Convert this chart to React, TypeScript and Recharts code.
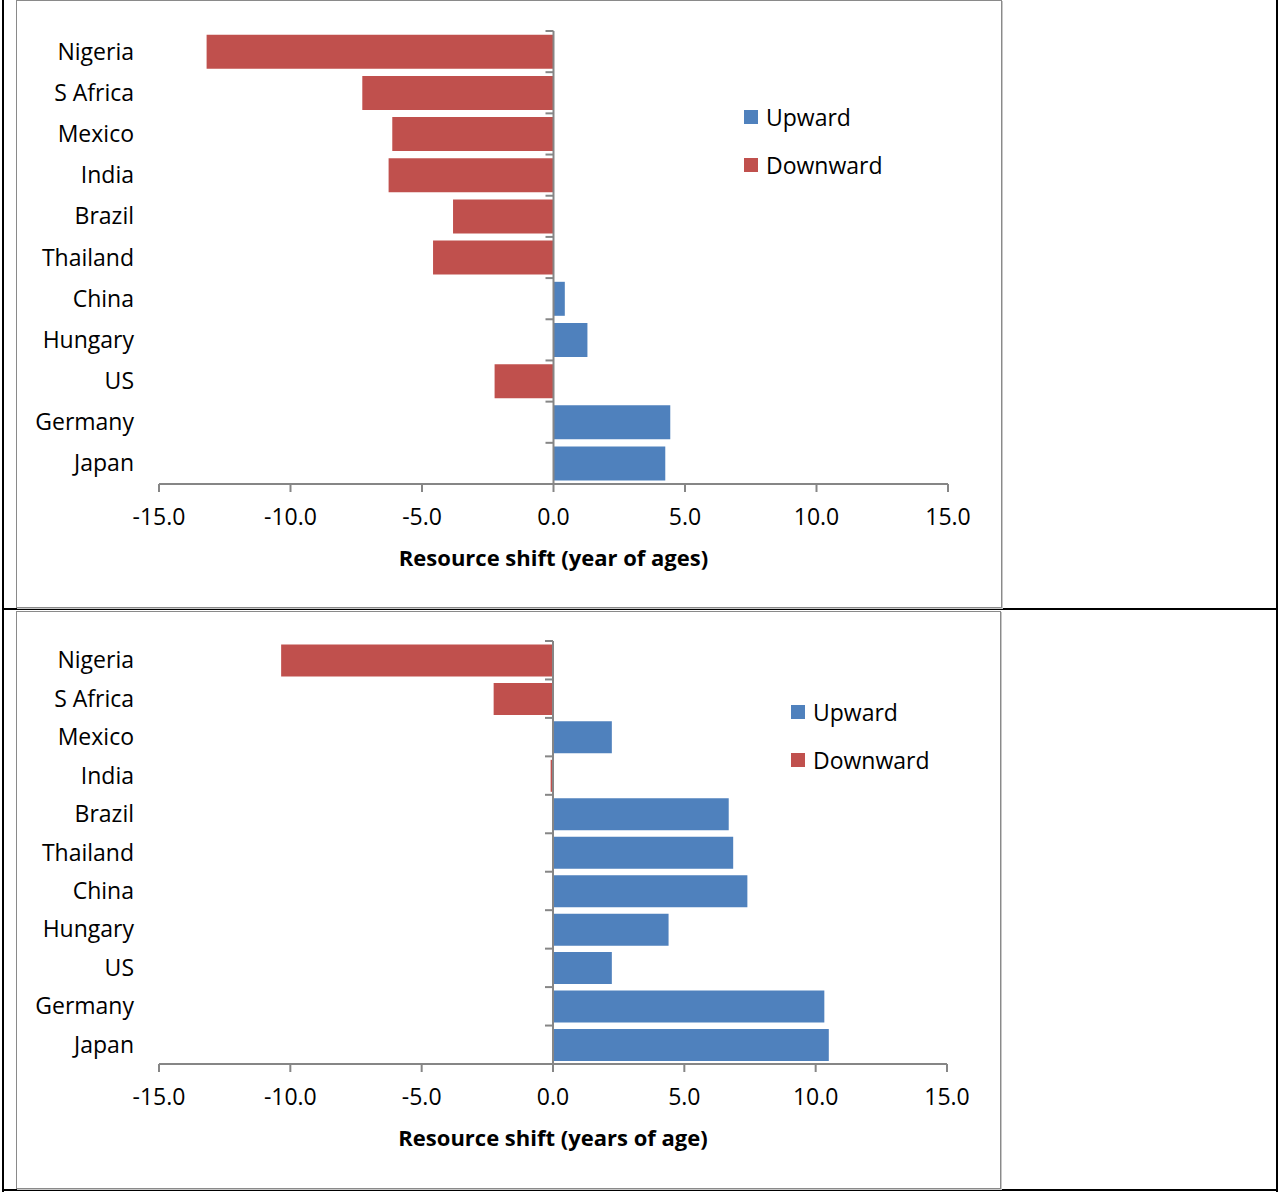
import { BarChart, Bar, XAxis, YAxis, ReferenceLine, Legend, Label } from 'recharts';

const countries = ['Nigeria', 'S Africa', 'Mexico', 'India', 'Brazil', 'Thailand', 'China', 'Hungary', 'US', 'Germany', 'Japan'];
const seriesOrder = ['Upward', 'Downward'];

// top panel
const upwardTop = [0, 0, 0, 0, 0, 0, 0.43, 1.29, 0, 4.44, 4.25];
const downwardTop = [-13.19, -7.27, -6.13, -6.27, -3.82, -4.58, 0, 0, -2.24, 0, 0];

// bottom panel
const upwardBottom = [0, 0, 2.24, 0, 6.69, 6.86, 7.4, 4.4, 2.24, 10.33, 10.5];
const downwardBottom = [-10.35, -2.26, 0, -0.09, 0, 0, 0, 0, 0, 0, 0];

const xTicks = [-15, -10, -5, 0, 5, 10, 15];

const FONT = '"Open Sans", "Noto Sans", sans-serif';
const FS = 23;
const AXIS = '#868686';
const BLUE = '#4F81BD';
const RED = '#C0504D';
const Y_WIDTH = 142;

type PanelProps = {
  up: number[];
  down: number[];
  title: string;
  width: number;
  height: number;
  top: number;
  bottom: number;
  right: number;
  legendLeft: number;
  legendTop: number;
};

function LegendBox({ payload }: any) {
  const items = [...(payload || [])].sort(
    (a: any, b: any) => seriesOrder.indexOf(a.value) - seriesOrder.indexOf(b.value),
  );
  return (
    <div style={{ fontFamily: FONT, fontSize: FS, color: '#000' }}>
      {items.map((p: any) => (
        <div key={p.value} style={{ display: 'flex', alignItems: 'center', height: 48 }}>
          <span style={{ width: 14, height: 14, background: p.color, marginRight: 8, display: 'inline-block' }} />
          {p.value}
        </div>
      ))}
    </div>
  );
}

function Panel(props: PanelProps) {
  const { up, down, title, width, height, top, bottom, right, legendLeft, legendTop } = props;
  const data = countries.map((c, i) => ({ country: c, Upward: up[i], Downward: down[i] }));
  const plotW = width - Y_WIDTH - right;
  const plotH = height - top - bottom;
  const zeroX = Y_WIDTH + plotW / 2;
  const band = plotH / countries.length;

  const CountryTick = ({ y, payload }: any) => (
    <g>
      <text x={Y_WIDTH - 25} y={y} dy="0.35em" textAnchor="end" fontFamily={FONT} fontSize={FS} fill="#000">
        {payload.value}
      </text>
      <line x1={zeroX - 8} x2={zeroX} y1={y - band / 2} y2={y - band / 2} stroke={AXIS} strokeWidth={2} />
    </g>
  );

  return (
    <BarChart
      width={width}
      height={height}
      data={data}
      layout="vertical"
      stackOffset="sign"
      barCategoryGap="9%"
      margin={{ top, right, left: 0, bottom: bottom - 90 }}
    >
      <XAxis
        type="number"
        domain={[-15, 15]}
        ticks={xTicks}
        tickFormatter={(v: number) => v.toFixed(1)}
        stroke={AXIS}
        strokeWidth={2}
        tickSize={8}
        tickMargin={17}
        height={90}
        tick={{ fill: '#000', fontSize: FS, fontFamily: FONT }}
      >
        <Label
          value={title}
          position="insideBottom"
          offset={8}
          style={{ fill: '#000', fontSize: 22, fontWeight: 'bold', fontFamily: FONT }}
        />
      </XAxis>
      <YAxis type="category" dataKey="country" width={Y_WIDTH} axisLine={false} tickLine={false} tick={CountryTick} interval={0} />
      <Bar dataKey="Upward" stackId="s" fill={BLUE} isAnimationActive={false} />
      <Bar dataKey="Downward" stackId="s" fill={RED} isAnimationActive={false} />
      <ReferenceLine x={0} stroke={AXIS} strokeWidth={2} />
      <Legend
        layout="vertical"
        align="center"
        verticalAlign="middle"
        content={LegendBox}
        wrapperStyle={{ left: legendLeft, top: legendTop, width: 200 }}
      />
    </BarChart>
  );
}

export default function App() {
  const box = {
    position: 'absolute' as const,
    border: '1px solid #8a8a8a',
    boxShadow: '1px 1px 0 #c8c8c8',
    background: '#fff',
  };
  return (
    <div style={{ position: 'absolute', left: 0, top: 0, width: 1279, height: 1192, background: '#fff' }}>
      <div style={{ position: 'absolute', left: 2, top: 0, width: 2, height: 1192, background: '#000' }} />
      <div style={{ position: 'absolute', left: 1276, top: 0, width: 2, height: 1192, background: '#000' }} />
      <div style={{ position: 'absolute', left: 2, top: 608, width: 1276, height: 2, background: '#000' }} />
      <div style={{ position: 'absolute', left: 2, top: 1189, width: 1276, height: 2, background: '#000' }} />

      <div style={{ ...box, left: 16, top: 0, width: 984, height: 606 }}>
        <Panel
          up={upwardTop}
          down={downwardTop}
          title="Resource shift (year of ages)"
          width={984}
          height={606}
          top={30}
          bottom={123}
          right={53}
          legendLeft={727}
          legendTop={92}
        />
      </div>

      <div style={{ ...box, left: 16, top: 611, width: 983, height: 576 }}>
        <Panel
          up={upwardBottom}
          down={downwardBottom}
          title="Resource shift (years of age)"
          width={983}
          height={576}
          top={29}
          bottom={124}
          right={53}
          legendLeft={774}
          legendTop={76}
        />
      </div>
    </div>
  );
}
